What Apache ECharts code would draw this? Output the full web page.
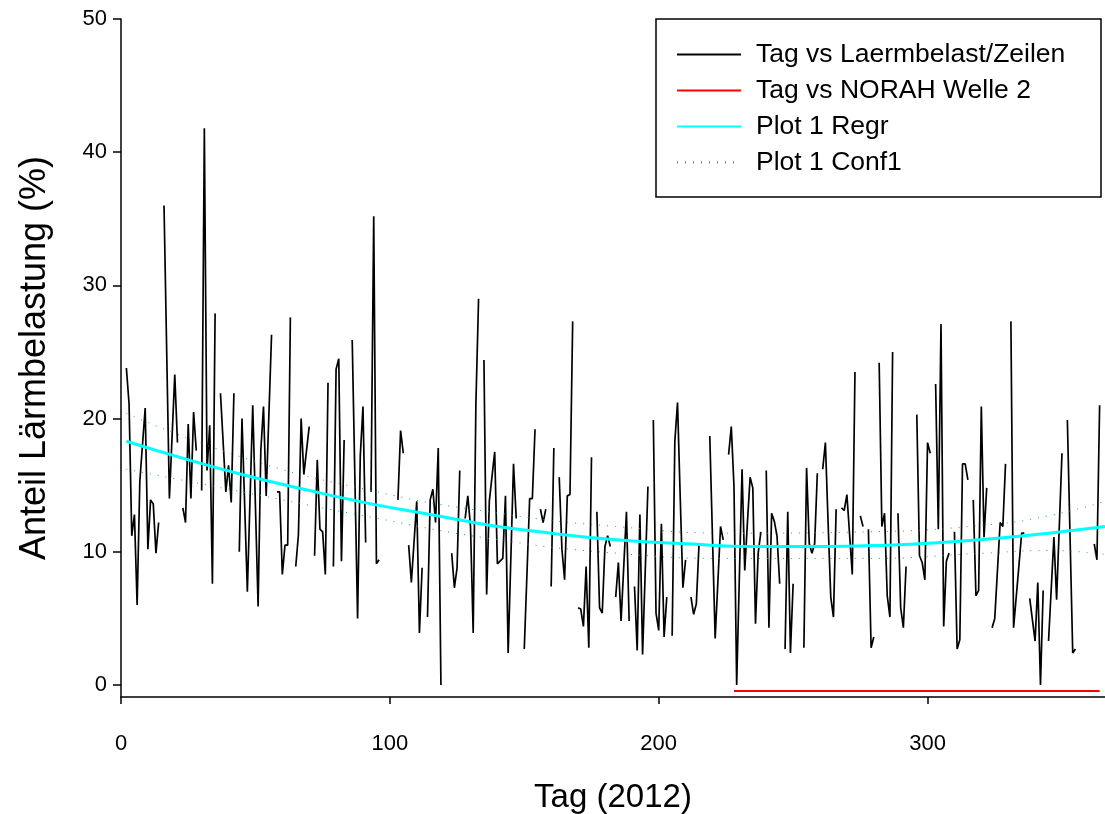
<!DOCTYPE html>
<html><head><meta charset="utf-8">
<script src="https://cdn.jsdelivr.net/npm/echarts@6/dist/echarts.min.js"></script>
<style>html,body{margin:0;padding:0;background:#fff}#c{width:1105px;height:814px}</style>
</head><body><div id="c"></div>
<script>
const laermDays = [2,3,4,5,6,7,9,10,11,12,13,14,15,16,18,20,21,22,23,24,25,26,27,28,29,30,31,32,33,34,35,36,37,39,40,41,42,43,44,45,47,49,51,52,53,54,56,57,58,59,60,61,62,63,64,65,66,67,68,70,71,72,73,74,75,76,77,78,79,80,81,82,83,84,86,88,89,90,91,92,93,94,95,96,97,103,104,105,106,107,108,110,111,112,113,114,115,116,117,118,119,120,123,124,125,126,127,128,129,130,131,132,133,134,135,136,137,139,140,142,143,144,146,147,148,150,152,153,154,155,156,157,158,159,160,161,162,163,164,165,166,167,168,169,170,171,172,173,174,175,176,177,178,179,180,181,182,183,184,185,186,188,189,190,191,192,193,194,196,197,198,199,200,201,202,203,204,205,206,207,208,209,210,211,212,213,214,215,216,219,221,223,224,225,226,227,228,229,231,232,233,234,235,236,237,238,239,240,241,242,243,244,245,246,247,248,249,250,251,254,255,256,257,258,259,260,261,262,263,264,265,266,267,268,269,270,272,273,274,275,276,277,278,279,280,281,282,283,284,285,286,287,288,289,290,291,292,293,296,297,298,299,300,301,302,303,304,305,306,307,308,309,310,311,312,313,314,315,316,317,318,319,320,321,322,323,324,325,327,328,329,330,331,332,334,335,336,337,338,340,341,342,343,344,345,347,348,350,351,352,354,355,356,362,363,364];
const laermVals = [23.8,21.1,11.2,12.8,6.0,15.3,20.8,10.2,13.9,13.6,9.9,12.2,null,36.0,14.0,23.3,18.2,null,13.3,12.2,19.6,14.0,20.5,17.6,null,14.6,41.8,16.1,19.5,7.6,27.9,null,21.9,14.5,16.5,13.7,21.9,null,10.0,20.0,7.0,21.0,5.9,17.6,20.9,14.2,26.3,null,14.5,14.5,8.3,10.5,10.5,27.6,null,8.9,11.3,20.0,15.8,19.4,null,9.7,16.9,11.7,11.5,8.3,22.7,null,8.9,23.7,24.5,9.3,18.4,null,25.9,5.0,17.2,20.9,10.7,null,14.5,35.2,9.1,9.4,null,13.9,19.1,17.4,null,10.5,7.7,13.8,3.9,8.8,null,5.1,13.9,14.7,12.2,17.8,0.0,null,9.9,7.3,8.8,16.1,null,12.5,14.2,11.9,3.9,21.1,29.0,null,24.4,6.8,13.8,17.5,9.1,9.5,14.2,2.4,16.6,12.5,null,2.7,14.0,14.0,19.2,null,13.2,12.2,13.2,null,7.4,17.8,null,15.6,10.2,7.9,14.2,14.3,27.3,null,5.8,5.7,4.4,8.9,2.8,17.1,null,13.0,5.8,5.4,10.4,11.2,10.4,null,6.6,9.2,4.8,13.0,4.8,null,7.4,2.6,12.8,2.3,14.9,null,19.9,5.4,4.1,12.1,3.6,6.6,null,3.7,18.3,21.2,14.1,7.3,9.4,null,6.6,5.3,6.1,10.6,null,18.7,3.5,11.9,10.9,null,17.3,19.4,14.9,0.0,16.2,8.6,12.2,15.6,14.8,4.6,9.9,11.5,null,16.1,4.3,12.9,12.3,11.2,7.6,null,2.7,13.0,2.4,7.6,null,2.8,16.3,10.6,9.9,10.6,15.9,null,16.2,18.2,12.2,6.6,5.1,13.2,null,13.3,13.1,14.3,8.3,23.5,null,12.7,11.9,null,11.7,2.8,3.6,null,24.2,11.9,12.9,6.7,5.1,25.0,null,12.9,5.8,4.3,8.9,null,20.3,9.7,9.2,7.9,18.2,17.4,null,22.6,11.7,27.1,4.4,9.3,9.9,null,11.5,2.7,3.4,16.6,16.6,15.4,null,13.9,6.7,7.1,20.9,11.1,14.8,null,4.3,5.0,12.2,11.9,16.6,null,27.3,4.3,9.0,11.4,11.4,null,6.5,3.3,7.7,0.0,7.1,null,3.3,11.1,6.4,17.4,null,19.9,2.4,2.7,null,10.6,9.4,21.0];
const norahDays = [228, 364];
const norahVals = [-0.45, -0.45];
const regrDays = [2,20,45,70,93,115,137,160,184,210,235,260,285,305,325,345,366];
const regrVals = [18.3,17.2,15.8,14.6,13.6,12.8,12.0,11.4,10.9,10.6,10.4,10.4,10.5,10.7,11.0,11.4,11.9];
const confDays = [2,45,93,137,184,230,278,321,345,366];
const confUpper = [20.4,17.1,14.6,13.0,11.9,11.4,11.5,12.0,12.7,13.8];
const confLower = [16.2,14.5,12.6,11.0,9.9,9.5,9.5,9.9,10.1,9.8];
const xTicks = [0,100,200,300];
const yTicks = [0,10,20,30,40,50];

const pairs = (xs, ys) => xs.map((x, i) => [x, ys[i] === null ? '-' : ys[i]]);
const FONT = 'Liberation Sans, Arial, sans-serif';

const chart = echarts.init(document.getElementById('c'), null, {renderer: 'canvas'});
chart.setOption({
  animation: false,
  backgroundColor: '#fff',
  grid: {left: 121, right: 0, top: 19, bottom: 117, containLabel: false, outerBoundsMode: 'none'},
  xAxis: {
    type: 'value', min: 0, max: 366,
    axisLine: {show: true, onZero: false, lineStyle: {color: '#000', width: 1.5}},
    axisTick: {show: true, customValues: xTicks, length: 7, inside: false, lineStyle: {color: '#000', width: 1.5}},
    axisLabel: {customValues: xTicks, fontSize: 22, color: '#000', fontFamily: FONT, margin: 36},
    splitLine: {show: false},
    name: 'Tag (2012)', nameLocation: 'middle', nameGap: 84,
    nameTextStyle: {fontSize: 33, color: '#000', fontFamily: FONT}
  },
  yAxis: {
    type: 'value', min: -0.9, max: 50,
    axisLine: {show: true, onZero: false, lineStyle: {color: '#000', width: 1.5}},
    axisTick: {show: true, customValues: yTicks, length: 8, inside: false, lineStyle: {color: '#000', width: 1.5}},
    axisLabel: {customValues: yTicks, fontSize: 22, color: '#000', fontFamily: FONT, margin: 14},
    splitLine: {show: false},
    name: 'Anteil Lärmbelastung (%)', nameLocation: 'middle', nameGap: 68, nameRotate: 90,
    nameTextStyle: {fontSize: 36, color: '#000', fontFamily: FONT}
  },
  graphic: [{
    type: 'rect', z: 50,
    shape: {x: 656, y: 19, width: 445, height: 178},
    style: {fill: '#fff', stroke: '#000', lineWidth: 1.5}
  }],
  legend: {
    orient: 'vertical', left: 676, top: 41, padding: 0, z: 60,
    itemWidth: 64, itemHeight: 14, itemGap: 9,
    itemStyle: {opacity: 0},
    textStyle: {fontSize: 26.5, color: '#000', fontFamily: FONT, padding: [0, 0, 0, 10], lineHeight: 27},
    data: ['Tag vs Laermbelast/Zeilen', 'Tag vs NORAH Welle 2', 'Plot 1 Regr', 'Plot 1 Conf1']
  },
  series: [
    {name: 'Tag vs Laermbelast/Zeilen', type: 'line', data: pairs(laermDays, laermVals),
     symbol: 'none', connectNulls: false, lineStyle: {color: '#000', width: 1.7}, itemStyle: {color: '#000'}, z: 2},
    {name: 'Tag vs NORAH Welle 2', type: 'line', data: pairs(norahDays, norahVals),
     symbol: 'none', lineStyle: {color: '#ff0000', width: 2}, itemStyle: {color: '#ff0000'}, z: 3},
    {name: 'Plot 1 Regr', type: 'line', data: pairs(regrDays, regrVals), smooth: true,
     symbol: 'none', lineStyle: {color: '#00ffff', width: 3}, itemStyle: {color: '#00ffff'}, z: 4},
    {name: 'Plot 1 Conf1', type: 'line', data: pairs(confDays, confUpper), smooth: true,
     symbol: 'none', lineStyle: {color: '#1a9a9a', width: 1, type: [1, 7]}, itemStyle: {color: '#1a9a9a'}, z: 4},
    {name: 'Plot 1 Conf1', type: 'line', data: pairs(confDays, confLower), smooth: true,
     symbol: 'none', lineStyle: {color: '#1a9a9a', width: 1, type: [1, 7]}, itemStyle: {color: '#1a9a9a'}, z: 4}
  ]
});
</script>
</body></html>
